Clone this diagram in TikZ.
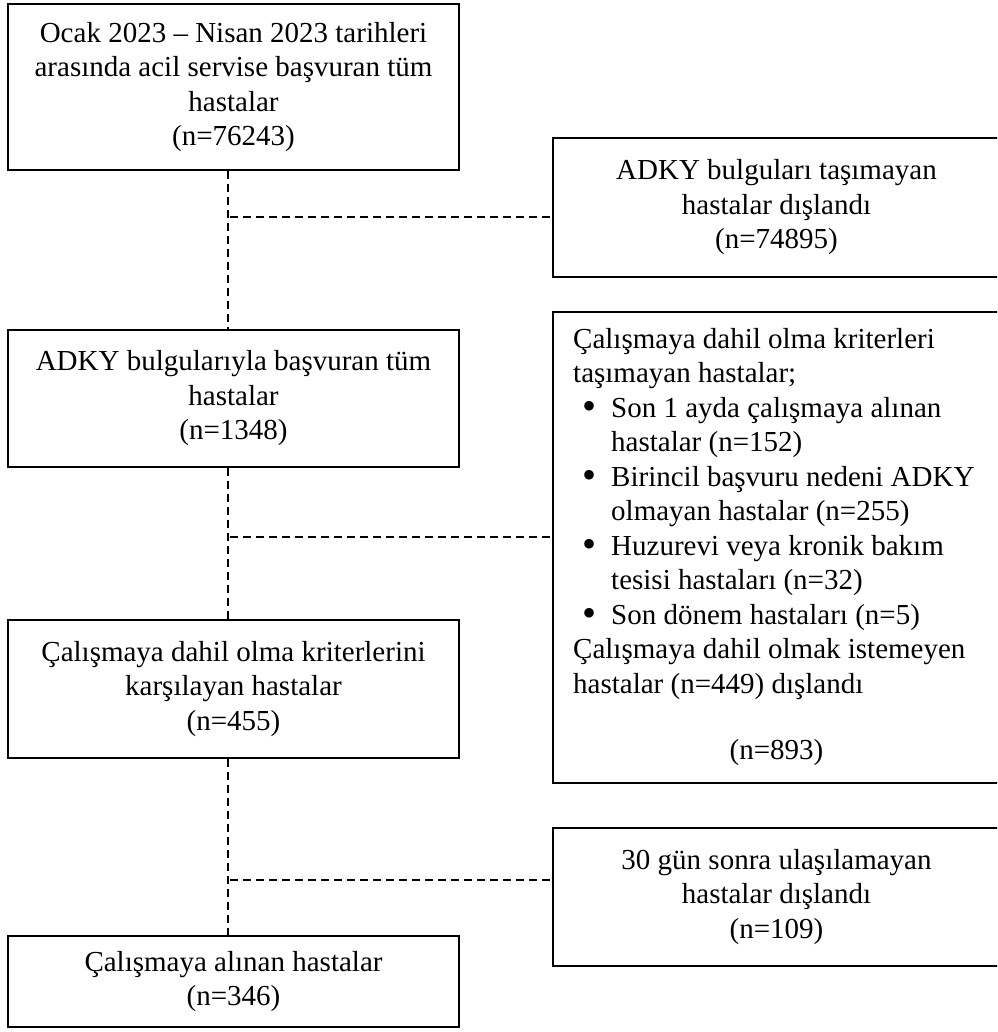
\documentclass[tikz,border=0pt]{standalone}
\usepackage{fontspec}
\setmainfont{Liberation Serif}
\newcommand{\bulitem}{\makebox[38pt][l]{\hspace{9pt}\raisebox{-2.5pt}{\fontsize{40}{40}\selectfont •}}}
\newcommand{\contind}{\hspace*{38pt}}
\begin{document}
\begin{tikzpicture}[x=1pt,y=-1pt,
  box/.style={draw=black,line width=1.4pt,rectangle,inner sep=0pt,align=center,
              font=\fontsize{29}{34.5}\selectfont},
  txt/.style={inner sep=0pt,font=\fontsize{29}{34.5}\selectfont},
  conn/.style={draw=black,line width=1.4pt,dash pattern=on 8pt off 5pt}]
\clip (0,0) rectangle (997,1032);
\fill[white] (0,0) rectangle (997,1032);
% left column
\node[box,minimum width=451pt,minimum height=166pt] (b1) at (233.5,87)
  {Ocak 2023 – Nisan 2023 tarihleri\\arasında acil servise başvuran tüm\\hastalar\\(n=76243)};
\node[box,minimum width=451pt,minimum height=137pt] (b2) at (233.5,398.5)
  {ADKY bulgularıyla başvuran tüm\\hastalar\\(n=1348)};
\node[box,minimum width=451pt,minimum height=138pt] (b3) at (233.5,689)
  {Çalışmaya dahil olma kriterlerini\\karşılayan hastalar\\(n=455)};
\node[box,minimum width=451pt,minimum height=91pt] (b4) at (233.5,981.5)
  {Çalışmaya alınan hastalar\\(n=346)};
% right column
\node[box,minimum width=447pt,minimum height=139pt] (r1) at (776.5,207.5)
  {ADKY bulguları taşımayan\\hastalar dışlandı\\(n=74895)};
\node[box,minimum width=447pt,minimum height=471pt] (r2) at (776.5,547.5) {};
\node[txt,align=left,anchor=west] (r2t) at (573,514)
  {Çalışmaya dahil olma kriterleri\\
   taşımayan hastalar;\\
   \bulitem Son 1 ayda çalışmaya alınan\\
   \contind hastalar (n=152)\\
   \bulitem Birincil başvuru nedeni ADKY\\
   \contind olmayan hastalar (n=255)\\
   \bulitem Huzurevi veya kronik bakım\\
   \contind tesisi hastaları (n=32)\\
   \bulitem Son dönem hastaları (n=5)\\
   Çalışmaya dahil olmak istemeyen\\
   hastalar (n=449) dışlandı};
\node[txt] (r2n) at (776.5,753) {(n=893)};
\node[box,minimum width=447pt,minimum height=138pt] (r3) at (776.5,897)
  {30 gün sonra ulaşılamayan\\hastalar dışlandı\\(n=109)};
% connectors
\coordinate (v) at (228,0);
\coordinate (j1) at (230,217);
\coordinate (j2) at (230,537);
\coordinate (j3) at (230,880);
\draw[conn] (b1.south -| v) -- (b2.north -| v);
\draw[conn] (b2.south -| v) -- (b3.north -| v);
\draw[conn] (b3.south -| v) -- (b4.north -| v);
\draw[conn] (j1) -- (j1 -| r1.west);
\draw[conn] (j2) -- (j2 -| r2.west);
\draw[conn] (j3) -- (j3 -| r3.west);
\end{tikzpicture}
\end{document}
